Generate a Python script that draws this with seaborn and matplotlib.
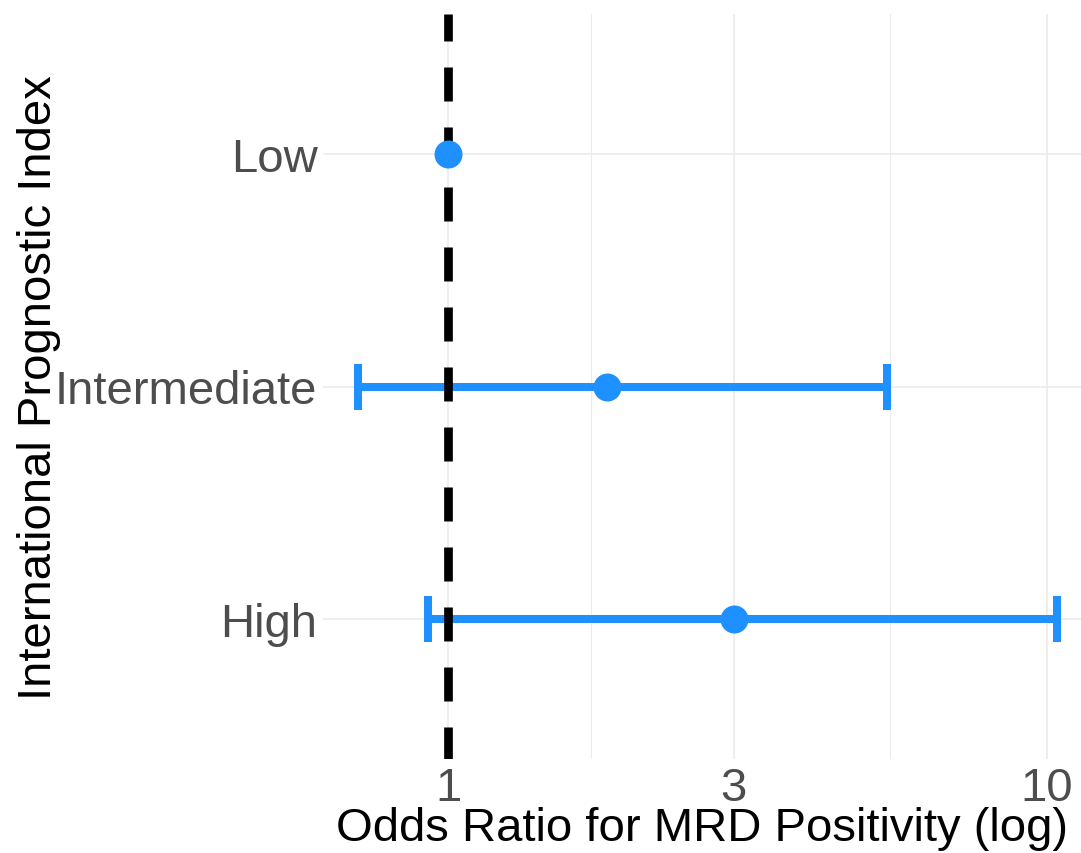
import numpy as np
import matplotlib
matplotlib.use("Agg")
import matplotlib.pyplot as plt
import seaborn as sns

# Odds ratios (log scale) for MRD positivity by IPI risk group
categories = ["Low", "Intermediate", "High"]
odds_ratio = [1.0, 1.84, 3.0]
ci_lower = [np.nan, 0.708, 0.926]
ci_upper = [np.nan, 5.41, 10.4]
x_ticks = [1, 3, 10]
x_tick_labels = ["1", "3", "10"]

sns.set_theme(style="white")
plt.rcParams["font.family"] = ["Liberation Sans", "DejaVu Sans"]
plt.rcParams["lines.scale_dashes"] = False

BLUE = "#1E90FF"
GRID = "#EBEBEB"
DPI = 100
px = 72.0 / DPI  # points per pixel

fig = plt.figure(figsize=(10.81, 8.54), dpi=DPI)
ax = fig.add_axes([323 / 1081, 94 / 854, 758 / 1081, 745 / 854])

ypos = np.arange(len(categories))

# minimal-theme grid
ax.set_xscale("log")
ax.set_xlim(10 ** -0.2087, 10 ** 1.0568)
ax.set_ylim(len(categories) - 1 + 0.6, -0.6)
ax.set_xticks(x_ticks)
ax.set_xticklabels(x_tick_labels)
minor = [np.sqrt(x_ticks[i] * x_ticks[i + 1]) for i in range(len(x_ticks) - 1)]
ax.set_xticks(minor, minor=True)
ax.xaxis.set_minor_formatter(matplotlib.ticker.NullFormatter())
ax.set_yticks(ypos)
ax.set_yticklabels(categories)
ax.grid(True, which="major", color=GRID, linewidth=1.6 * px)
ax.grid(True, which="minor", axis="x", color=GRID, linewidth=1.0 * px)
ax.set_axisbelow(True)
for s in ax.spines.values():
    s.set_visible(False)
ax.tick_params(axis="both", which="both", length=0, labelsize=34,
               labelcolor="#4D4D4D")
ax.tick_params(axis="x", pad=5)
ax.tick_params(axis="y", pad=4)

# confidence intervals
has_ci = ~np.isnan(np.array(ci_lower))
orr = np.array(odds_ratio)[has_ci]
lo = np.array(ci_lower)[has_ci]
hi = np.array(ci_upper)[has_ci]
ax.errorbar(orr, ypos[has_ci], xerr=[orr - lo, hi - orr], fmt="none",
            ecolor=BLUE, elinewidth=8 * px, capsize=23.5 * px,
            capthick=8 * px, zorder=2)

# reference line at OR = 1
ax.axvline(1, color="black", linewidth=8.7 * px,
           linestyle=(2 * px, (34 * px, 26 * px)), zorder=3)

# point estimates
sns.scatterplot(x=odds_ratio, y=ypos, ax=ax, color=BLUE, s=(28 * px) ** 2,
                linewidth=0, zorder=4, legend=False)

ax.set_xlabel("Odds Ratio for MRD Positivity (log)", fontsize=34,
              color="black", labelpad=-3)
ax.set_ylabel("International Prognostic Index", fontsize=34,
              color="black", labelpad=-4.5)

fig.savefig("out.png", dpi=DPI, facecolor="white")
